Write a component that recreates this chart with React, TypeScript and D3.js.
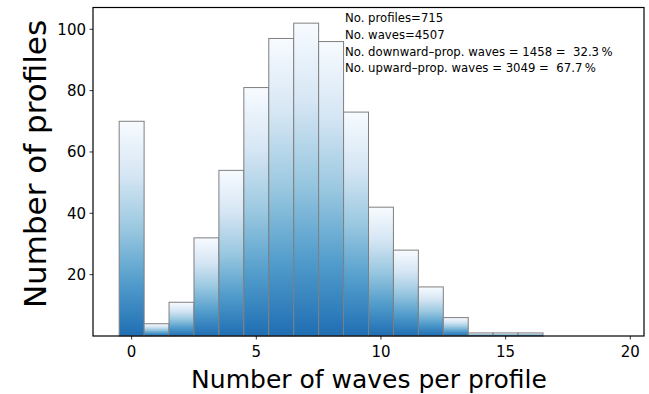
import React from "react";
import * as d3 from "d3";

const waveCounts = [0, 1, 2, 3, 4, 5, 6, 7, 8, 9, 10, 11, 12, 13, 14, 15, 16, 17, 18, 19, 20];
const profileCounts = [70, 4, 11, 32, 54, 81, 97, 102, 96, 73, 42, 28, 16, 6, 1, 1, 1, 0, 0, 0, 0];
const xTicks = [0, 5, 10, 15, 20];
const yTicks = [20, 40, 60, 80, 100];
const annotations = [
  "No. profiles=715",
  "No. waves=4507",
  "No. downward\u2013prop. waves = 1458 =  32.3\u2009%",
  "No. upward\u2013prop. waves = 3049 =  67.7\u2009%",
];

const W = 649;
const H = 394;
const L = 93, R = 644, T = 7.5, B = 336;

export default function App() {
  const x = d3.scaleLinear().domain([-1.55, 20.55]).range([L, R]);
  const y = d3.scaleLinear().domain([0, 107.1]).range([B, T]);
  const font = "DejaVu Sans, sans-serif";
  return (
    <svg width={W} height={H} style={{ position: "absolute", left: 0, top: 0, background: "#fff" }}>
      <defs>
        <linearGradient id="barGrad" x1="0" y1="0" x2="0" y2="1">
          <stop offset="0%" stopColor="#f7fbff" />
          <stop offset="25%" stopColor="#d6e6f4" />
          <stop offset="50%" stopColor="#9ac8e0" />
          <stop offset="75%" stopColor="#529dcc" />
          <stop offset="100%" stopColor="#1f6eb3" />
        </linearGradient>
      </defs>
      {waveCounts.map((w, i) => {
        const v = profileCounts[i];
        if (v <= 0) return null;
        const x0 = x(w - 0.5), x1 = x(w + 0.5);
        const yt = y(v);
        return (
          <rect key={w} x={x0} y={yt} width={x1 - x0} height={B - yt}
            fill="url(#barGrad)" stroke="#7f7f7f" strokeWidth={1} />
        );
      })}
      <rect x={L} y={T} width={R - L} height={B - T} fill="none" stroke="#000" strokeWidth={1.2} />
      {xTicks.map((t) => (
        <g key={t}>
          <line x1={x(t)} x2={x(t)} y1={B} y2={B + 3.5} stroke="#000" strokeWidth={0.8} />
          <text x={x(t)} y={B + 21} textAnchor="middle" fontFamily={font} fontSize={15} fill="#000">{t}</text>
        </g>
      ))}
      {yTicks.map((t) => (
        <g key={t}>
          <line x1={L - 3.5} x2={L} y1={y(t)} y2={y(t)} stroke="#000" strokeWidth={0.8} />
          <text x={L - 7} y={y(t) + 5.5} textAnchor="end" fontFamily={font} fontSize={15} fill="#000">{t}</text>
        </g>
      ))}
      <text x={369} y={388} textAnchor="middle" fontFamily={font} fontSize={25} fill="#000">
        Number of waves per profile
      </text>
      <text transform={`translate(46, 164) rotate(-90)`} textAnchor="middle" fontFamily={font} fontSize={31} fill="#000">
        Number of profiles
      </text>
      {annotations.map((a, i) => (
        <text key={i} x={345} y={22 + i * 16.8} fontFamily={font} fontSize={11.7} fill="#000" style={{ whiteSpace: "pre" }}>{a}</text>
      ))}
    </svg>
  );
}
